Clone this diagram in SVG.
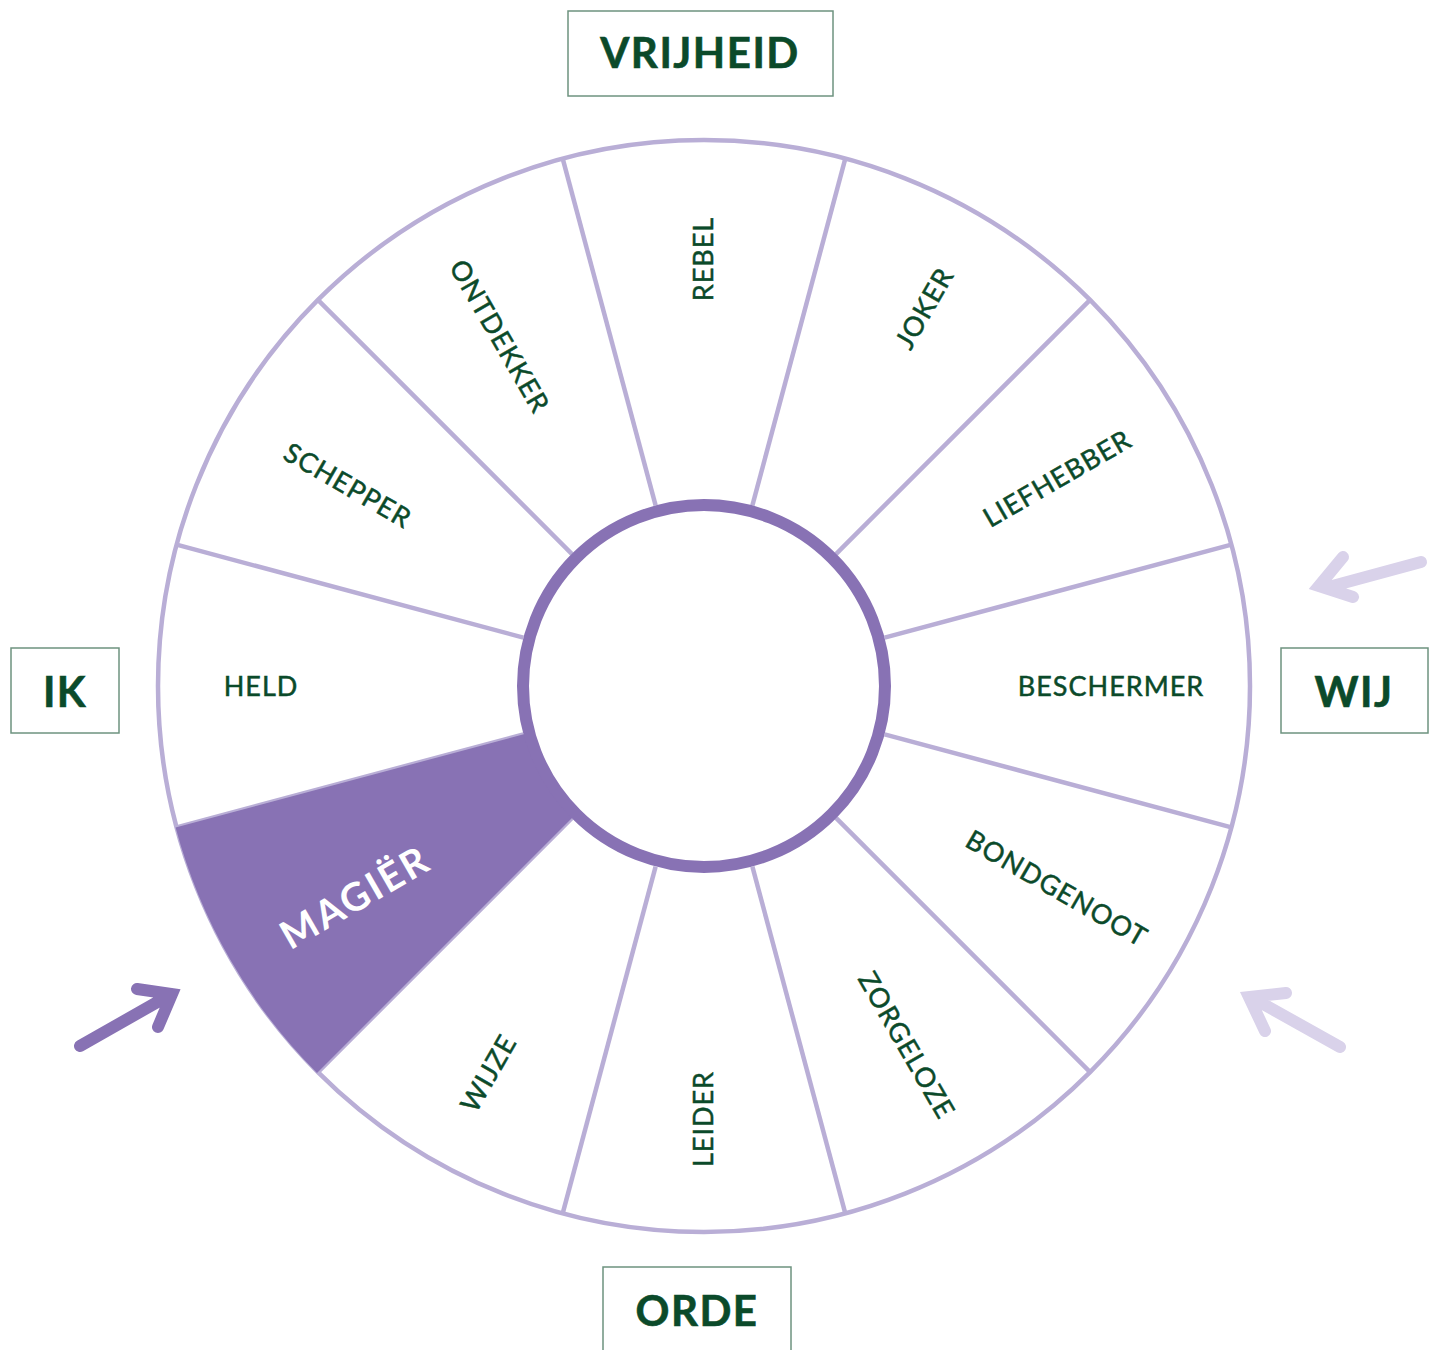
<svg xmlns="http://www.w3.org/2000/svg" width="1429" height="1350" viewBox="0 0 1429 1350">
<style>
.lbl{font-family:Lato,"Liberation Sans",sans-serif;font-size:27px;fill:#0b4a2a;stroke:#0b4a2a;stroke-width:0.5;text-anchor:middle;letter-spacing:1px}
.mag{font-family:Lato,"Liberation Sans",sans-serif;font-size:39px;font-weight:bold;fill:#ffffff;text-anchor:middle;letter-spacing:2.5px}
.box{fill:#ffffff;stroke:#0b4a2a;stroke-opacity:0.6;stroke-width:1.5}
.boxt{font-family:Lato,"Liberation Sans",sans-serif;font-size:42px;font-weight:bold;fill:#0b4a2a;stroke:#0b4a2a;stroke-width:0.6;text-anchor:middle;letter-spacing:1.5px}
.spoke{stroke:#b9aed6;stroke-width:4.5;fill:none}
.arr{fill:none;stroke-width:12;stroke-linecap:round;stroke-linejoin:miter}
</style>
<rect width="1429" height="1350" fill="#ffffff"/>
<g id="wheel">
<circle cx="704" cy="686" r="546" fill="#ffffff" stroke="#b9aed6" stroke-width="4.5"/>
</g>
<g id="connectors">
<line class="spoke" x1="884.6" y1="734.4" x2="1231.4" y2="827.3"/>
<line class="spoke" x1="836.2" y1="818.2" x2="1090.1" y2="1072.1"/>
<line class="spoke" x1="752.4" y1="866.6" x2="845.3" y2="1213.4"/>
<line class="spoke" x1="655.6" y1="866.6" x2="562.7" y2="1213.4"/>
<line class="spoke" x1="571.8" y1="818.2" x2="317.9" y2="1072.1"/>
<line class="spoke" x1="523.4" y1="734.4" x2="176.6" y2="827.3"/>
<line class="spoke" x1="523.4" y1="637.6" x2="176.6" y2="544.7"/>
<line class="spoke" x1="571.8" y1="553.8" x2="317.9" y2="299.9"/>
<line class="spoke" x1="655.6" y1="505.4" x2="562.7" y2="158.6"/>
<line class="spoke" x1="752.4" y1="505.4" x2="845.3" y2="158.6"/>
<line class="spoke" x1="836.2" y1="553.8" x2="1090.1" y2="299.9"/>
<line class="spoke" x1="884.6" y1="637.6" x2="1231.4" y2="544.7"/>
<path class="arr" stroke="#8872b4" d="M80,1046 L168,996 M137,989 L172,994 L158,1027"/>
<path class="arr" stroke="#d9d2ea" d="M1421,562 L1325,588 M1343,557 L1319,586 L1353,597"/>
<path class="arr" stroke="#d9d2ea" d="M1340,1047 L1256,1000 M1286,993 L1249,997 L1265,1031"/>
</g>
<g id="n-magier">
<path d="M317,1073 A547,547 0 0 1 175.6,827.6 L529.2,732.8 A181,181 0 0 0 576,814 Z" fill="#8872b4"/>
<text class="mag" transform="translate(355,897) rotate(-30)" y="14">MAGIËR</text>
</g>
<g id="hub">
<circle cx="704" cy="686" r="181" fill="#ffffff" stroke="#8872b4" stroke-width="12"/>
</g>
<g id="n-rebel"><text class="lbl" transform="translate(703,259) rotate(-90)" y="10">REBEL</text></g>
<g id="n-joker"><text class="lbl" transform="translate(924,308) rotate(-60)" y="10">JOKER</text></g>
<g id="n-liefhebber"><text class="lbl" transform="translate(1057,478) rotate(-30)" y="10">LIEFHEBBER</text></g>
<g id="n-beschermer"><text class="lbl" transform="translate(1111,686) rotate(0)" y="10">BESCHERMER</text></g>
<g id="n-bondgenoot"><text class="lbl" transform="translate(1057,888) rotate(30)" y="10">BONDGENOOT</text></g>
<g id="n-zorgeloze"><text class="lbl" transform="translate(907,1045) rotate(60)" y="10">ZORGELOZE</text></g>
<g id="n-leider"><text class="lbl" transform="translate(703,1119) rotate(-90)" y="10">LEIDER</text></g>
<g id="n-wijze"><text class="lbl" transform="translate(488,1073) rotate(-60)" y="10">WIJZE</text></g>
<g id="n-held"><text class="lbl" transform="translate(261,686) rotate(0)" y="10">HELD</text></g>
<g id="n-schepper"><text class="lbl" transform="translate(348,485) rotate(30)" y="10">SCHEPPER</text></g>
<g id="n-ontdekker"><text class="lbl" transform="translate(500,336) rotate(60)" y="10">ONTDEKKER</text></g>
<g id="n-vrijheid"><rect class="box" x="568" y="11" width="265" height="85"/><text class="boxt" x="700" y="68">VRIJHEID</text></g>
<g id="n-ik"><rect class="box" x="11" y="648" width="108" height="85"/><text class="boxt" x="65" y="707">IK</text></g>
<g id="n-wij"><rect class="box" x="1281" y="648" width="147" height="85"/><text class="boxt" x="1354" y="707">WIJ</text></g>
<g id="n-orde"><rect class="box" x="603" y="1267" width="188" height="100"/><text class="boxt" x="697" y="1326">ORDE</text></g>
</svg>
